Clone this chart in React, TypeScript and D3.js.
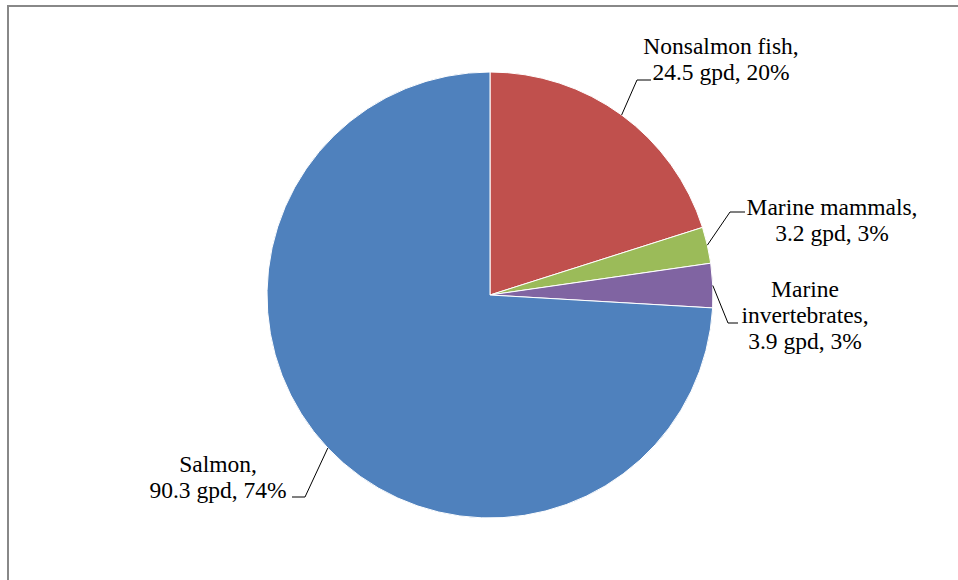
import React from "react";
import * as d3 from "d3";

const categories = ["Nonsalmon fish", "Marine mammals", "Marine invertebrates", "Salmon"];
const values = [24.5, 3.2, 3.9, 90.3];
const colors = ["#C0504D", "#9BBB59", "#8064A2", "#4F81BD"];
const labelLines = [
  ["Nonsalmon fish,", "24.5 gpd, 20%"],
  ["Marine mammals,", "3.2 gpd, 3%"],
  ["Marine", "invertebrates,", "3.9 gpd, 3%"],
  ["Salmon,", "90.3 gpd, 74%"],
];

const W = 958;
const H = 580;
const cx = 490;
const cy = 295;
const R = 223;

// label layout: text center x, first baseline y, leader elbow and end
const labelLayout = [
  { x: 721, y: 54, elbow: [637, 80], end: [651, 80] },
  { x: 832, y: 215, elbow: [730, 212], end: [745, 212] },
  { x: 805, y: 297, elbow: [728, 323], end: [738, 323] },
  { x: 218, y: 472, elbow: [305, 497], end: [292, 497] },
];

export default function App() {
  const pie = d3.pie<number>().sort(null).value((d) => d)(values);
  const arc = d3.arc<d3.PieArcDatum<number>>().innerRadius(0).outerRadius(R);
  const lineH = 26;

  return (
    <svg
      width={W}
      height={H}
      style={{ position: "absolute", left: 0, top: 0, background: "#fff" }}
      fontFamily="'Liberation Serif', 'Times New Roman', serif"
    >
      <rect x={0} y={0} width={W} height={H} fill="#fff" />
      <rect x={8} y={6} width={W + 20} height={H + 20} fill="none" stroke="#888" strokeWidth={2} />
      <g transform={`translate(${cx},${cy})`}>
        {pie.map((p, i) => (
          <path key={categories[i]} d={arc(p) || ""} fill={colors[i]} stroke="#fff" strokeWidth={1} />
        ))}
      </g>
      {pie.map((p, i) => {
        const mid = (p.startAngle + p.endAngle) / 2;
        const sx = cx + R * Math.sin(mid);
        const sy = cy - R * Math.cos(mid);
        const L = labelLayout[i];
        return (
          <g key={"lab" + i}>
            <polyline
              points={`${sx},${sy} ${L.elbow[0]},${L.elbow[1]} ${L.end[0]},${L.end[1]}`}
              fill="none"
              stroke="#000"
              strokeWidth={1}
            />
            <text x={L.x} y={L.y} textAnchor="middle" fontSize={23.5} fill="#000">
              {labelLines[i].map((t, j) => (
                <tspan key={j} x={L.x} y={L.y + j * lineH}>
                  {t}
                </tspan>
              ))}
            </text>
          </g>
        );
      })}
    </svg>
  );
}
